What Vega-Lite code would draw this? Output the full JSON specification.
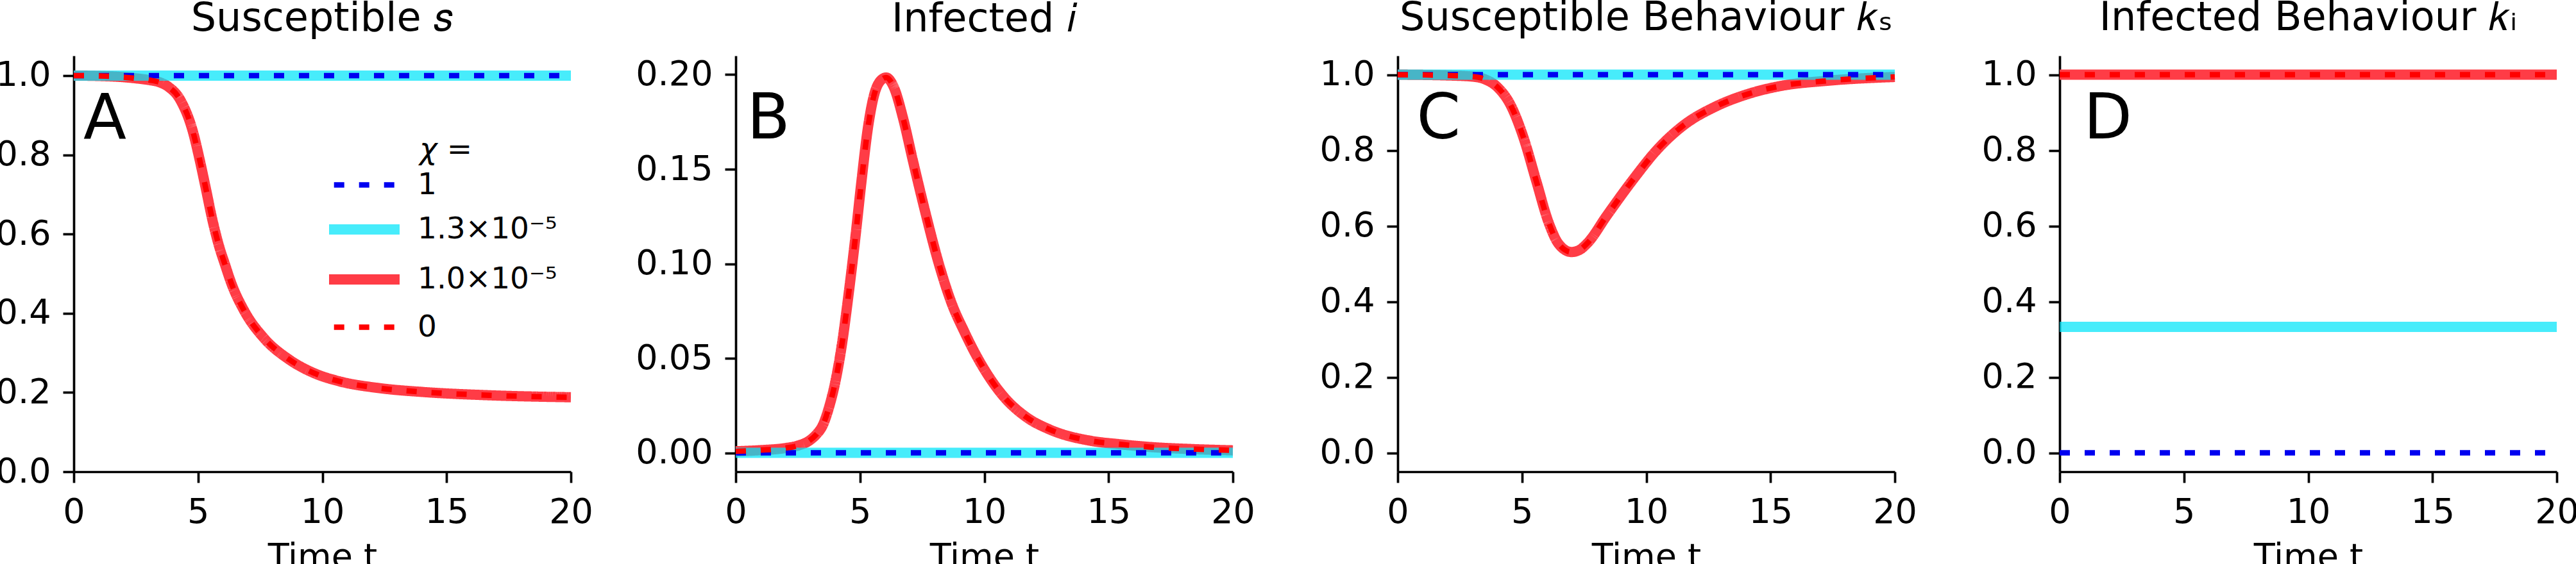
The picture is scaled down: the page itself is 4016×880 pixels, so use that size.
{
  "$schema": "https://vega.github.io/schema/vega-lite/v6.json",
  "background": "white",
  "padding": {"left": -7, "top": -4, "right": 0, "bottom": 0},
  "bounds": "flush",
  "spacing": 257,
  "config": {
    "font": "DejaVu Sans",
    "view": {"stroke": null},
    "axis": {
      "domainColor": "black", "domainWidth": 3.7,
      "tickColor": "black", "tickWidth": 3.7, "tickSize": 17,
      "labelFont": "DejaVu Sans", "labelFontSize": 54, "labelColor": "black", "labelPadding": 19,
      "labelFlush": false, "labelOverlap": false, "grid": false,
      "titleFont": "DejaVu Sans", "titleFontSize": 54, "titleFontWeight": "normal", "titleColor": "black", "titlePadding": 16
    },
    "title": {"font": "DejaVu Sans", "fontSize": 62, "fontWeight": "normal", "color": "black", "anchor": "middle", "frame": "group", "offset": 25, "baseline": "alphabetic"},
    "legend": {
      "symbolSize": 5776,
      "labelFont": "DejaVu Sans", "labelFontSize": 47, "labelColor": "black", "labelOffset": 37, "labelLimit": 400,
      "titleFont": "DejaVu Sans", "titleFontSize": 47, "titleFontStyle": "italic", "titleFontWeight": "normal", "titleColor": "black",
      "titleAnchor": "middle", "titlePadding": -12, "rowPadding": 0, "padding": 0
    },
    "line": {"interpolate": "monotone", "strokeCap": "butt"}
  },
  "datasets": {
    "s": [
      {"chi": "1", "t": 0, "v": 1}, {"chi": "1", "t": 20, "v": 1},
      {"chi": "1.3×10⁻⁵", "t": 0, "v": 1}, {"chi": "1.3×10⁻⁵", "t": 20, "v": 1},
      {"chi": "1.0×10⁻⁵", "t": 0, "v": 1.0}, {"chi": "1.0×10⁻⁵", "t": 1, "v": 0.999}, {"chi": "1.0×10⁻⁵", "t": 2, "v": 0.996},
      {"chi": "1.0×10⁻⁵", "t": 2.5, "v": 0.993}, {"chi": "1.0×10⁻⁵", "t": 3, "v": 0.989}, {"chi": "1.0×10⁻⁵", "t": 3.5, "v": 0.982},
      {"chi": "1.0×10⁻⁵", "t": 3.8, "v": 0.972}, {"chi": "1.0×10⁻⁵", "t": 4.3, "v": 0.937}, {"chi": "1.0×10⁻⁵", "t": 4.8, "v": 0.857},
      {"chi": "1.0×10⁻⁵", "t": 5.06, "v": 0.789}, {"chi": "1.0×10⁻⁵", "t": 5.32, "v": 0.713}, {"chi": "1.0×10⁻⁵", "t": 5.57, "v": 0.638},
      {"chi": "1.0×10⁻⁵", "t": 5.83, "v": 0.573}, {"chi": "1.0×10⁻⁵", "t": 6.09, "v": 0.522}, {"chi": "1.0×10⁻⁵", "t": 6.35, "v": 0.474},
      {"chi": "1.0×10⁻⁵", "t": 6.86, "v": 0.406}, {"chi": "1.0×10⁻⁵", "t": 7.64, "v": 0.338}, {"chi": "1.0×10⁻⁵", "t": 8.67, "v": 0.283},
      {"chi": "1.0×10⁻⁵", "t": 9.7, "v": 0.248}, {"chi": "1.0×10⁻⁵", "t": 10.7, "v": 0.228}, {"chi": "1.0×10⁻⁵", "t": 12.3, "v": 0.211},
      {"chi": "1.0×10⁻⁵", "t": 14.1, "v": 0.201}, {"chi": "1.0×10⁻⁵", "t": 16.7, "v": 0.193}, {"chi": "1.0×10⁻⁵", "t": 20, "v": 0.188},
      {"chi": "0", "t": 0, "v": 1.0}, {"chi": "0", "t": 1, "v": 0.999}, {"chi": "0", "t": 2, "v": 0.996},
      {"chi": "0", "t": 2.5, "v": 0.993}, {"chi": "0", "t": 3, "v": 0.989}, {"chi": "0", "t": 3.5, "v": 0.982},
      {"chi": "0", "t": 3.8, "v": 0.972}, {"chi": "0", "t": 4.3, "v": 0.937}, {"chi": "0", "t": 4.8, "v": 0.857},
      {"chi": "0", "t": 5.06, "v": 0.789}, {"chi": "0", "t": 5.32, "v": 0.713}, {"chi": "0", "t": 5.57, "v": 0.638},
      {"chi": "0", "t": 5.83, "v": 0.573}, {"chi": "0", "t": 6.09, "v": 0.522}, {"chi": "0", "t": 6.35, "v": 0.474},
      {"chi": "0", "t": 6.86, "v": 0.406}, {"chi": "0", "t": 7.64, "v": 0.338}, {"chi": "0", "t": 8.67, "v": 0.283},
      {"chi": "0", "t": 9.7, "v": 0.248}, {"chi": "0", "t": 10.7, "v": 0.228}, {"chi": "0", "t": 12.3, "v": 0.211},
      {"chi": "0", "t": 14.1, "v": 0.201}, {"chi": "0", "t": 16.7, "v": 0.193}, {"chi": "0", "t": 20, "v": 0.188}
    ],
    "i": [
      {"chi": "1", "t": 0, "v": 0}, {"chi": "1", "t": 20, "v": 0},
      {"chi": "1.3×10⁻⁵", "t": 0, "v": 0}, {"chi": "1.3×10⁻⁵", "t": 20, "v": 0},
      {"chi": "1.0×10⁻⁵", "t": 0, "v": 0.0008}, {"chi": "1.0×10⁻⁵", "t": 1, "v": 0.0014}, {"chi": "1.0×10⁻⁵", "t": 2, "v": 0.0025},
      {"chi": "1.0×10⁻⁵", "t": 2.5, "v": 0.0038}, {"chi": "1.0×10⁻⁵", "t": 3, "v": 0.0068}, {"chi": "1.0×10⁻⁵", "t": 3.25, "v": 0.0098},
      {"chi": "1.0×10⁻⁵", "t": 3.5, "v": 0.0145}, {"chi": "1.0×10⁻⁵", "t": 3.74, "v": 0.0235}, {"chi": "1.0×10⁻⁵", "t": 4.03, "v": 0.039},
      {"chi": "1.0×10⁻⁵", "t": 4.28, "v": 0.058}, {"chi": "1.0×10⁻⁵", "t": 4.54, "v": 0.0838}, {"chi": "1.0×10⁻⁵", "t": 4.8, "v": 0.1123},
      {"chi": "1.0×10⁻⁵", "t": 5.06, "v": 0.1437}, {"chi": "1.0×10⁻⁵", "t": 5.32, "v": 0.172}, {"chi": "1.0×10⁻⁵", "t": 5.57, "v": 0.1894},
      {"chi": "1.0×10⁻⁵", "t": 5.83, "v": 0.1969}, {"chi": "1.0×10⁻⁵", "t": 6.05, "v": 0.1985}, {"chi": "1.0×10⁻⁵", "t": 6.35, "v": 0.1937},
      {"chi": "1.0×10⁻⁵", "t": 6.74, "v": 0.1766}, {"chi": "1.0×10⁻⁵", "t": 7.12, "v": 0.155}, {"chi": "1.0×10⁻⁵", "t": 7.64, "v": 0.1266},
      {"chi": "1.0×10⁻⁵", "t": 8.15, "v": 0.101}, {"chi": "1.0×10⁻⁵", "t": 8.69, "v": 0.079}, {"chi": "1.0×10⁻⁵", "t": 9.2, "v": 0.064},
      {"chi": "1.0×10⁻⁵", "t": 9.7, "v": 0.051}, {"chi": "1.0×10⁻⁵", "t": 10.7, "v": 0.031}, {"chi": "1.0×10⁻⁵", "t": 11.7, "v": 0.0188},
      {"chi": "1.0×10⁻⁵", "t": 12.6, "v": 0.0125}, {"chi": "1.0×10⁻⁵", "t": 14.3, "v": 0.0063}, {"chi": "1.0×10⁻⁵", "t": 15.4, "v": 0.0046},
      {"chi": "1.0×10⁻⁵", "t": 16.75, "v": 0.003}, {"chi": "1.0×10⁻⁵", "t": 18.3, "v": 0.002}, {"chi": "1.0×10⁻⁵", "t": 20, "v": 0.0013},
      {"chi": "0", "t": 0, "v": 0.0008}, {"chi": "0", "t": 1, "v": 0.0014}, {"chi": "0", "t": 2, "v": 0.0025},
      {"chi": "0", "t": 2.5, "v": 0.0038}, {"chi": "0", "t": 3, "v": 0.0068}, {"chi": "0", "t": 3.25, "v": 0.0098},
      {"chi": "0", "t": 3.5, "v": 0.0145}, {"chi": "0", "t": 3.74, "v": 0.0235}, {"chi": "0", "t": 4.03, "v": 0.039},
      {"chi": "0", "t": 4.28, "v": 0.058}, {"chi": "0", "t": 4.54, "v": 0.0838}, {"chi": "0", "t": 4.8, "v": 0.1123},
      {"chi": "0", "t": 5.06, "v": 0.1437}, {"chi": "0", "t": 5.32, "v": 0.172}, {"chi": "0", "t": 5.57, "v": 0.1894},
      {"chi": "0", "t": 5.83, "v": 0.1969}, {"chi": "0", "t": 6.05, "v": 0.1985}, {"chi": "0", "t": 6.35, "v": 0.1937},
      {"chi": "0", "t": 6.74, "v": 0.1766}, {"chi": "0", "t": 7.12, "v": 0.155}, {"chi": "0", "t": 7.64, "v": 0.1266},
      {"chi": "0", "t": 8.15, "v": 0.101}, {"chi": "0", "t": 8.69, "v": 0.079}, {"chi": "0", "t": 9.2, "v": 0.064},
      {"chi": "0", "t": 9.7, "v": 0.051}, {"chi": "0", "t": 10.7, "v": 0.031}, {"chi": "0", "t": 11.7, "v": 0.0188},
      {"chi": "0", "t": 12.6, "v": 0.0125}, {"chi": "0", "t": 14.3, "v": 0.0063}, {"chi": "0", "t": 15.4, "v": 0.0046},
      {"chi": "0", "t": 16.75, "v": 0.003}, {"chi": "0", "t": 18.3, "v": 0.002}, {"chi": "0", "t": 20, "v": 0.0013}
    ],
    "ks": [
      {"chi": "1", "t": 0, "v": 1}, {"chi": "1", "t": 20, "v": 1},
      {"chi": "1.3×10⁻⁵", "t": 0, "v": 1}, {"chi": "1.3×10⁻⁵", "t": 20, "v": 1},
      {"chi": "1.0×10⁻⁵", "t": 0, "v": 1.0}, {"chi": "1.0×10⁻⁵", "t": 2, "v": 0.998}, {"chi": "1.0×10⁻⁵", "t": 3, "v": 0.995},
      {"chi": "1.0×10⁻⁵", "t": 3.5, "v": 0.988}, {"chi": "1.0×10⁻⁵", "t": 4.03, "v": 0.966}, {"chi": "1.0×10⁻⁵", "t": 4.54, "v": 0.92},
      {"chi": "1.0×10⁻⁵", "t": 5.06, "v": 0.834}, {"chi": "1.0×10⁻⁵", "t": 5.57, "v": 0.72}, {"chi": "1.0×10⁻⁵", "t": 6.09, "v": 0.606},
      {"chi": "1.0×10⁻⁵", "t": 6.48, "v": 0.552}, {"chi": "1.0×10⁻⁵", "t": 6.99, "v": 0.531}, {"chi": "1.0×10⁻⁵", "t": 7.3, "v": 0.536},
      {"chi": "1.0×10⁻⁵", "t": 7.64, "v": 0.555}, {"chi": "1.0×10⁻⁵", "t": 8.41, "v": 0.627}, {"chi": "1.0×10⁻⁵", "t": 9.44, "v": 0.72},
      {"chi": "1.0×10⁻⁵", "t": 10.5, "v": 0.806}, {"chi": "1.0×10⁻⁵", "t": 11.5, "v": 0.866}, {"chi": "1.0×10⁻⁵", "t": 12.8, "v": 0.916},
      {"chi": "1.0×10⁻⁵", "t": 14.1, "v": 0.949}, {"chi": "1.0×10⁻⁵", "t": 15.4, "v": 0.97}, {"chi": "1.0×10⁻⁵", "t": 17.3, "v": 0.984},
      {"chi": "1.0×10⁻⁵", "t": 20, "v": 0.994},
      {"chi": "0", "t": 0, "v": 1.0}, {"chi": "0", "t": 2, "v": 0.998}, {"chi": "0", "t": 3, "v": 0.995},
      {"chi": "0", "t": 3.5, "v": 0.988}, {"chi": "0", "t": 4.03, "v": 0.966}, {"chi": "0", "t": 4.54, "v": 0.92},
      {"chi": "0", "t": 5.06, "v": 0.834}, {"chi": "0", "t": 5.57, "v": 0.72}, {"chi": "0", "t": 6.09, "v": 0.606},
      {"chi": "0", "t": 6.48, "v": 0.552}, {"chi": "0", "t": 6.99, "v": 0.531}, {"chi": "0", "t": 7.3, "v": 0.536},
      {"chi": "0", "t": 7.64, "v": 0.555}, {"chi": "0", "t": 8.41, "v": 0.627}, {"chi": "0", "t": 9.44, "v": 0.72},
      {"chi": "0", "t": 10.5, "v": 0.806}, {"chi": "0", "t": 11.5, "v": 0.866}, {"chi": "0", "t": 12.8, "v": 0.916},
      {"chi": "0", "t": 14.1, "v": 0.949}, {"chi": "0", "t": 15.4, "v": 0.97}, {"chi": "0", "t": 17.3, "v": 0.984},
      {"chi": "0", "t": 20, "v": 0.994}
    ],
    "ki": [
      {"chi": "1", "t": 0, "v": 0}, {"chi": "1", "t": 20, "v": 0},
      {"chi": "1.3×10⁻⁵", "t": 0, "v": 0.333}, {"chi": "1.3×10⁻⁵", "t": 20, "v": 0.333},
      {"chi": "1.0×10⁻⁵", "t": 0, "v": 1}, {"chi": "1.0×10⁻⁵", "t": 20, "v": 1},
      {"chi": "0", "t": 0, "v": 1}, {"chi": "0", "t": 20, "v": 1}
    ]
  },
  "hconcat": [
    {
      "width": 775, "height": 649,
      "title": "Susceptible 𝑠",
      "data": {"name": "s"},
      "encoding": {
        "x": {"field": "t", "type": "quantitative", "scale": {"domain": [0, 20], "nice": false}, "axis": {"values": [0, 5, 10, 15, 20], "format": "d", "title": "Time t"}},
        "y": {"field": "v", "type": "quantitative", "scale": {"domain": [0, 1.05], "nice": false, "zero": false}, "axis": {"values": [0, 0.2, 0.4, 0.6, 0.8, 1], "format": ".1f", "title": null}}
      },
      "layer": [
        {
          "encoding": {
            "color": {"field": "chi", "type": "nominal", "scale": {"domain": ["1", "1.3×10⁻⁵", "1.0×10⁻⁵", "0"], "range": ["#0000f0", "rgba(0,228,250,0.72)", "#ff3c46", "#ff0000"]}, "legend": {"orient": "none", "legendX": 407, "legendY": 124, "title": "χ =", "symbolType": "M-1.447,0H1.447", "symbolDashOffset": 31.3}},
            "strokeDash": {"field": "chi", "type": "nominal", "scale": {"domain": ["1", "1.3×10⁻⁵", "1.0×10⁻⁵", "0"], "range": [[16, 23], [1, 0], [1, 0], [16, 23]]}, "legend": {"orient": "none", "legendX": 407, "legendY": 124, "title": "χ =", "symbolType": "M-1.447,0H1.447", "symbolDashOffset": 31.3}},
            "strokeWidth": {"field": "chi", "type": "nominal", "scale": {"type": "ordinal", "domain": ["1", "1.3×10⁻⁵", "1.0×10⁻⁵", "0"], "range": [8.5, 16, 16, 8.5]}, "legend": {"orient": "none", "legendX": 407, "legendY": 124, "title": "χ =", "symbolType": "M-1.447,0H1.447", "symbolDashOffset": 31.3}}
          },
          "layer": [
            {"transform": [{"filter": "datum.chi === '1.0×10⁻⁵'"}], "mark": "line"},
            {"transform": [{"filter": "datum.chi === '1.3×10⁻⁵'"}], "mark": "line"},
            {"transform": [{"filter": "datum.chi === '1'"}], "mark": "line"},
            {"transform": [{"filter": "datum.chi === '0'"}], "mark": "line"}
          ]
        },
        {
          "data": {"values": [{"t": 0.387, "v": 0.841, "label": "A"}]},
          "mark": {"type": "text", "font": "DejaVu Sans", "fontSize": 98, "align": "left", "baseline": "alphabetic", "color": "black"},
          "encoding": {"text": {"field": "label"}}
        }
      ]
    },
    {
      "width": 775, "height": 649,
      "title": "Infected 𝑖",
      "data": {"name": "i"},
      "encoding": {
        "x": {"field": "t", "type": "quantitative", "scale": {"domain": [0, 20], "nice": false}, "axis": {"values": [0, 5, 10, 15, 20], "format": "d", "title": "Time t"}},
        "y": {"field": "v", "type": "quantitative", "scale": {"domain": [-0.01, 0.21], "nice": false, "zero": false}, "axis": {"values": [0, 0.05, 0.1, 0.15, 0.2], "format": ".2f", "title": null}}
      },
      "layer": [
        {
          "encoding": {
            "color": {"field": "chi", "type": "nominal", "scale": {"domain": ["1", "1.3×10⁻⁵", "1.0×10⁻⁵", "0"], "range": ["#0000f0", "rgba(0,228,250,0.72)", "#ff3c46", "#ff0000"]}, "legend": {"orient": "none", "legendX": 407, "legendY": 124, "title": "χ =", "symbolType": "M-1.447,0H1.447", "symbolDashOffset": 31.3}},
            "strokeDash": {"field": "chi", "type": "nominal", "scale": {"domain": ["1", "1.3×10⁻⁵", "1.0×10⁻⁵", "0"], "range": [[16, 23], [1, 0], [1, 0], [16, 23]]}, "legend": {"orient": "none", "legendX": 407, "legendY": 124, "title": "χ =", "symbolType": "M-1.447,0H1.447", "symbolDashOffset": 31.3}},
            "strokeWidth": {"field": "chi", "type": "nominal", "scale": {"type": "ordinal", "domain": ["1", "1.3×10⁻⁵", "1.0×10⁻⁵", "0"], "range": [8.5, 16, 16, 8.5]}, "legend": {"orient": "none", "legendX": 407, "legendY": 124, "title": "χ =", "symbolType": "M-1.447,0H1.447", "symbolDashOffset": 31.3}}
          },
          "layer": [
            {"transform": [{"filter": "datum.chi === '1.0×10⁻⁵'"}], "mark": "line"},
            {"transform": [{"filter": "datum.chi === '1.3×10⁻⁵'"}], "mark": "line"},
            {"transform": [{"filter": "datum.chi === '1'"}], "mark": "line"},
            {"transform": [{"filter": "datum.chi === '0'"}], "mark": "line"}
          ]
        },
        {
          "data": {"values": [{"t": 0.45, "v": 0.1663, "label": "B"}]},
          "mark": {"type": "text", "font": "DejaVu Sans", "fontSize": 98, "align": "left", "baseline": "alphabetic", "color": "black"},
          "encoding": {"text": {"field": "label"}}
        }
      ]
    },
    {
      "width": 775, "height": 649,
      "title": "Susceptible Behaviour 𝑘ₛ",
      "data": {"name": "ks"},
      "encoding": {
        "x": {"field": "t", "type": "quantitative", "scale": {"domain": [0, 20], "nice": false}, "axis": {"values": [0, 5, 10, 15, 20], "format": "d", "title": "Time t"}},
        "y": {"field": "v", "type": "quantitative", "scale": {"domain": [-0.05, 1.05], "nice": false, "zero": false}, "axis": {"values": [0, 0.2, 0.4, 0.6, 0.8, 1], "format": ".1f", "title": null}}
      },
      "layer": [
        {
          "encoding": {
            "color": {"field": "chi", "type": "nominal", "scale": {"domain": ["1", "1.3×10⁻⁵", "1.0×10⁻⁵", "0"], "range": ["#0000f0", "rgba(0,228,250,0.72)", "#ff3c46", "#ff0000"]}, "legend": {"orient": "none", "legendX": 407, "legendY": 124, "title": "χ =", "symbolType": "M-1.447,0H1.447", "symbolDashOffset": 31.3}},
            "strokeDash": {"field": "chi", "type": "nominal", "scale": {"domain": ["1", "1.3×10⁻⁵", "1.0×10⁻⁵", "0"], "range": [[16, 23], [1, 0], [1, 0], [16, 23]]}, "legend": {"orient": "none", "legendX": 407, "legendY": 124, "title": "χ =", "symbolType": "M-1.447,0H1.447", "symbolDashOffset": 31.3}},
            "strokeWidth": {"field": "chi", "type": "nominal", "scale": {"type": "ordinal", "domain": ["1", "1.3×10⁻⁵", "1.0×10⁻⁵", "0"], "range": [8.5, 16, 16, 8.5]}, "legend": {"orient": "none", "legendX": 407, "legendY": 124, "title": "χ =", "symbolType": "M-1.447,0H1.447", "symbolDashOffset": 31.3}}
          },
          "layer": [
            {"transform": [{"filter": "datum.chi === '1.0×10⁻⁵'"}], "mark": "line"},
            {"transform": [{"filter": "datum.chi === '1.3×10⁻⁵'"}], "mark": "line"},
            {"transform": [{"filter": "datum.chi === '1'"}], "mark": "line"},
            {"transform": [{"filter": "datum.chi === '0'"}], "mark": "line"}
          ]
        },
        {
          "data": {"values": [{"t": 0.76, "v": 0.831, "label": "C"}]},
          "mark": {"type": "text", "font": "DejaVu Sans", "fontSize": 98, "align": "left", "baseline": "alphabetic", "color": "black"},
          "encoding": {"text": {"field": "label"}}
        }
      ]
    },
    {
      "width": 775, "height": 649,
      "title": "Infected Behaviour 𝑘ᵢ",
      "data": {"name": "ki"},
      "encoding": {
        "x": {"field": "t", "type": "quantitative", "scale": {"domain": [0, 20], "nice": false}, "axis": {"values": [0, 5, 10, 15, 20], "format": "d", "title": "Time t"}},
        "y": {"field": "v", "type": "quantitative", "scale": {"domain": [-0.05, 1.05], "nice": false, "zero": false}, "axis": {"values": [0, 0.2, 0.4, 0.6, 0.8, 1], "format": ".1f", "title": null}}
      },
      "layer": [
        {
          "encoding": {
            "color": {"field": "chi", "type": "nominal", "scale": {"domain": ["1", "1.3×10⁻⁵", "1.0×10⁻⁵", "0"], "range": ["#0000f0", "rgba(0,228,250,0.72)", "#ff3c46", "#ff0000"]}, "legend": {"orient": "none", "legendX": 407, "legendY": 124, "title": "χ =", "symbolType": "M-1.447,0H1.447", "symbolDashOffset": 31.3}},
            "strokeDash": {"field": "chi", "type": "nominal", "scale": {"domain": ["1", "1.3×10⁻⁵", "1.0×10⁻⁵", "0"], "range": [[16, 23], [1, 0], [1, 0], [16, 23]]}, "legend": {"orient": "none", "legendX": 407, "legendY": 124, "title": "χ =", "symbolType": "M-1.447,0H1.447", "symbolDashOffset": 31.3}},
            "strokeWidth": {"field": "chi", "type": "nominal", "scale": {"type": "ordinal", "domain": ["1", "1.3×10⁻⁵", "1.0×10⁻⁵", "0"], "range": [8.5, 16, 16, 8.5]}, "legend": {"orient": "none", "legendX": 407, "legendY": 124, "title": "χ =", "symbolType": "M-1.447,0H1.447", "symbolDashOffset": 31.3}}
          },
          "layer": [
            {"transform": [{"filter": "datum.chi === '1.0×10⁻⁵'"}], "mark": "line"},
            {"transform": [{"filter": "datum.chi === '1.3×10⁻⁵'"}], "mark": "line"},
            {"transform": [{"filter": "datum.chi === '1'"}], "mark": "line"},
            {"transform": [{"filter": "datum.chi === '0'"}], "mark": "line"}
          ]
        },
        {
          "data": {"values": [{"t": 0.965, "v": 0.831, "label": "D"}]},
          "mark": {"type": "text", "font": "DejaVu Sans", "fontSize": 98, "align": "left", "baseline": "alphabetic", "color": "black"},
          "encoding": {"text": {"field": "label"}}
        }
      ]
    }
  ]
}
